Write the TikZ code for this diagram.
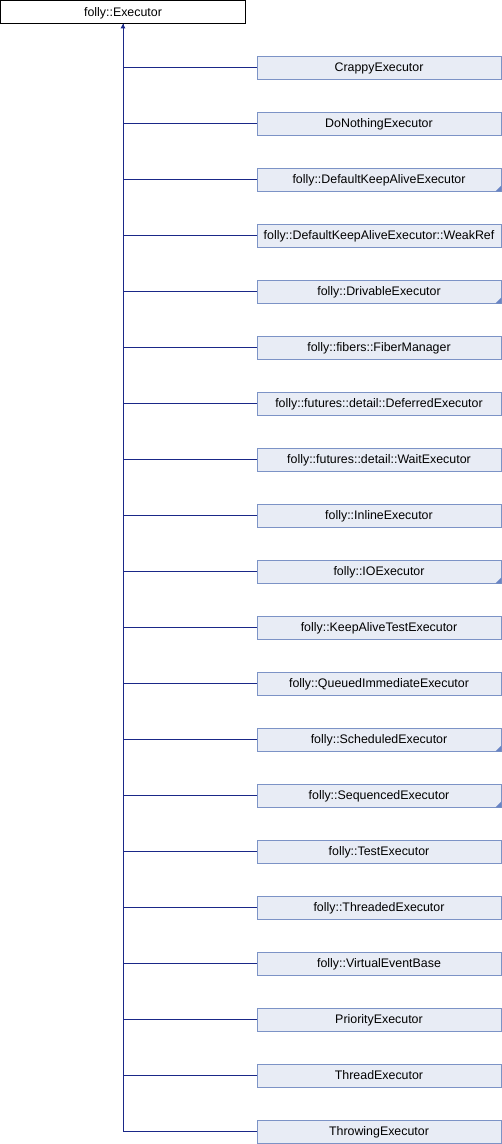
\documentclass[tikz,border=0pt]{standalone}
\usepackage{fontspec}
\setmainfont{Liberation Sans}
\usetikzlibrary{arrows.meta}
\definecolor{boxfill}{HTML}{E8ECF5}
\definecolor{boxline}{HTML}{7C93C6}
\definecolor{foldcol}{HTML}{6884C4}
\definecolor{edgecol}{HTML}{1A2888}
\begin{document}
\begin{tikzpicture}[x=1pt,y=-1pt]
            \useasboundingbox (0,0) rectangle (502,1144);
            \tikzstyle{every node}=[rectangle, fill=boxfill, draw=boxline, line width=0.8pt, minimum width=244pt, minimum height=23pt, inner sep=0pt, text height=8.8pt, text depth=0pt, font=\fontsize{12.4}{14}\selectfont, text=black]
            \tikzstyle{edge}=[edgecol, line width=1pt]
            \tikzstyle{fold}=[foldcol]

            \node[fill=white, draw=black, minimum width=245pt] (exec) at (123,12) {folly::Executor};

            \node (crappy) at (379,67.5) {CrappyExecutor};
            \node (nothing) at (379,123.5) {DoNothingExecutor};
            \node (keepalive) at (379,179.5) {folly::DefaultKeepAliveExecutor};
            \node (weakref) at (379,235.5) {folly::DefaultKeepAliveExecutor::WeakRef};
            \node (drivable) at (379,291.5) {folly::DrivableExecutor};
            \node (fiber) at (379,347.5) {folly::fibers::FiberManager};
            \node (deferred) at (379,403.5) {folly::futures::detail::DeferredExecutor};
            \node (wait) at (379,459.5) {folly::futures::detail::WaitExecutor};
            \node (inline) at (379,515.5) {folly::InlineExecutor};
            \node (io) at (379,571.5) {folly::IOExecutor};
            \node (keeptest) at (379,627.5) {folly::KeepAliveTestExecutor};
            \node (queued) at (379,683.5) {folly::QueuedImmediateExecutor};
            \node (scheduled) at (379,739.5) {folly::ScheduledExecutor};
            \node (sequenced) at (379,795.5) {folly::SequencedExecutor};
            \node (test) at (379,851.5) {folly::TestExecutor};
            \node (threaded) at (379,907.5) {folly::ThreadedExecutor};
            \node (veb) at (379,963.5) {folly::VirtualEventBase};
            \node (priority) at (379,1019.5) {PriorityExecutor};
            \node (thread) at (379,1075.5) {ThreadExecutor};
            \node (throwing) at (379,1131.5) {ThrowingExecutor};

            \draw[edge, -{Triangle[width=4.5pt,length=4.5pt]}] (throwing.west) -| (exec.south);
            \draw[edge] (crappy.west) -| (exec.south);
            \draw[edge] (nothing.west) -| (exec.south);
            \draw[edge] (keepalive.west) -| (exec.south);
            \draw[edge] (weakref.west) -| (exec.south);
            \draw[edge] (drivable.west) -| (exec.south);
            \draw[edge] (fiber.west) -| (exec.south);
            \draw[edge] (deferred.west) -| (exec.south);
            \draw[edge] (wait.west) -| (exec.south);
            \draw[edge] (inline.west) -| (exec.south);
            \draw[edge] (io.west) -| (exec.south);
            \draw[edge] (keeptest.west) -| (exec.south);
            \draw[edge] (queued.west) -| (exec.south);
            \draw[edge] (scheduled.west) -| (exec.south);
            \draw[edge] (sequenced.west) -| (exec.south);
            \draw[edge] (test.west) -| (exec.south);
            \draw[edge] (threaded.west) -| (exec.south);
            \draw[edge] (veb.west) -| (exec.south);
            \draw[edge] (priority.west) -| (exec.south);
            \draw[edge] (thread.west) -| (exec.south);

            % classes with more children
            \fill[fold] (keepalive.south east) -- ++(-6,0) -- ++(6,-6) -- cycle;
            \fill[fold] (drivable.south east) -- ++(-6,0) -- ++(6,-6) -- cycle;
            \fill[fold] (io.south east) -- ++(-6,0) -- ++(6,-6) -- cycle;
            \fill[fold] (scheduled.south east) -- ++(-6,0) -- ++(6,-6) -- cycle;
            \fill[fold] (sequenced.south east) -- ++(-6,0) -- ++(6,-6) -- cycle;
        \end{tikzpicture}
\end{document}
